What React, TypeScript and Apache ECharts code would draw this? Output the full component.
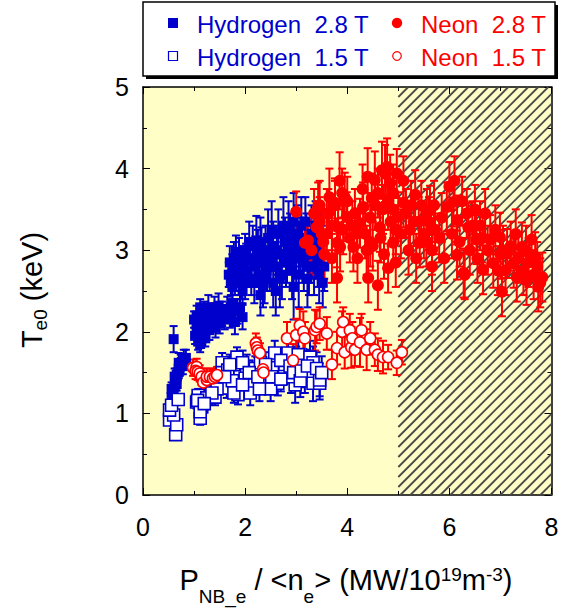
import React, { useEffect, useRef } from 'react';
import * as echarts from 'echarts';

// ---------------- data: [x, Te0, error] ----------------
const xRange = [0, 8];
const yRange = [0, 5];
const xTickStep = 2;
const yTickStep = 1;
const hatchRange = [[5, 8]];

const legendLabels = ['Hydrogen  2.8 T', 'Neon  2.8 T', 'Hydrogen  1.5 T', 'Neon  1.5 T'];

const hydrogen28 = [
  [0.6, 1.91, 0.16],
  [0.56, 1.2, 0.08], [0.58, 1.24, 0.08], [0.6, 1.29, 0.08], [0.62, 1.33, 0.1], [0.63, 1.38, 0.08],
  [0.65, 1.42, 0.1], [0.66, 1.47, 0.08], [0.68, 1.5, 0.1], [0.7, 1.53, 0.1], [0.72, 1.56, 0.1],
  [0.74, 1.6, 0.12], [0.76, 1.63, 0.1], [0.62, 1.45, 0.1], [0.7, 1.62, 0.12], [0.8, 1.66, 0.12],
  [0.78, 1.58, 0.1], [0.66, 1.36, 0.08], [0.56, 1.3, 0.08], [0.84, 1.68, 0.1],
  [1.02, 1.95, 0.1], [1.05, 2.05, 0.12], [1.05, 2.2, 0.12], [1.08, 1.88, 0.1], [1.1, 2.12, 0.12],
  [1.12, 2.3, 0.1], [1.15, 2.0, 0.12], [1.18, 2.18, 0.12], [1.2, 2.25, 0.12], [1.22, 1.92, 0.1],
  [1.25, 2.1, 0.12], [1.28, 2.3, 0.15], [1.3, 2.02, 0.12], [1.33, 2.2, 0.15], [1.36, 2.12, 0.12],
  [1.4, 2.28, 0.15], [1.42, 2.05, 0.12], [1.45, 2.18, 0.12], [1.48, 2.32, 0.15], [1.5, 2.1, 0.12],
  [1.55, 2.22, 0.15], [1.6, 2.15, 0.12], [1.65, 2.28, 0.15], [1.7, 2.2, 0.15], [1.75, 2.35, 0.15],
  [1.8, 2.12, 0.15], [1.85, 2.25, 0.15], [1.9, 2.3, 0.15], [1.95, 2.18, 0.15], [1.12, 1.85, 0.1],
  [1.0, 2.15, 0.1],
  [1.68, 2.7, 0.15], [1.7, 2.85, 0.2], [1.72, 2.6, 0.15], [1.75, 2.75, 0.2], [1.78, 2.9, 0.2],
  [1.8, 2.65, 0.2], [1.85, 2.8, 0.2], [1.88, 2.95, 0.2], [1.9, 2.7, 0.2], [1.95, 2.85, 0.2],
  [2.0, 2.6, 0.2], [2.0, 3.0, 0.2], [2.05, 2.75, 0.2], [2.1, 2.9, 0.25], [2.12, 2.65, 0.2],
  [2.15, 3.05, 0.25], [2.2, 2.8, 0.25], [2.25, 2.95, 0.3], [2.28, 2.7, 0.25], [2.3, 3.1, 0.3],
  [2.35, 2.85, 0.25], [2.4, 3.0, 0.3], [2.42, 2.75, 0.25], [2.45, 3.15, 0.35], [2.5, 2.9, 0.3],
  [2.55, 3.05, 0.3], [2.55, 2.6, 0.3], [2.6, 2.8, 0.3], [2.65, 3.2, 0.3], [2.7, 2.95, 0.3],
  [2.72, 2.7, 0.3], [2.78, 3.1, 0.3], [2.8, 2.85, 0.3], [2.85, 3.25, 0.35], [2.9, 3.0, 0.3],
  [2.92, 2.75, 0.35], [2.98, 3.15, 0.35], [3.0, 2.9, 0.3], [3.05, 2.7, 0.4], [3.08, 3.05, 0.35],
  [3.1, 3.3, 0.35], [3.15, 2.85, 0.35], [3.2, 3.1, 0.35], [3.22, 2.65, 0.35], [3.28, 2.95, 0.35],
  [3.3, 3.2, 0.35], [3.35, 2.8, 0.35], [3.4, 3.05, 0.35], [3.45, 2.7, 0.35], [3.5, 2.95, 0.35],
  [3.52, 2.6, 0.3], [2.35, 2.55, 0.25], [2.95, 2.55, 0.4], [1.95, 2.5, 0.15],
  [1.75, 2.55, 0.15], [1.82, 2.98, 0.2], [1.92, 2.6, 0.2], [2.02, 2.88, 0.2], [2.08, 3.1, 0.25],
  [2.18, 2.6, 0.25], [2.22, 3.12, 0.3], [2.32, 2.98, 0.3], [2.38, 2.65, 0.3], [2.48, 2.8, 0.3],
  [2.52, 3.25, 0.35], [2.62, 3.0, 0.3], [2.68, 2.65, 0.35], [2.75, 3.3, 0.35], [2.82, 2.95, 0.35],
  [2.88, 3.1, 0.35], [2.95, 3.35, 0.35], [3.02, 3.2, 0.35], [3.12, 2.95, 0.35], [3.18, 3.35, 0.3],
  [3.25, 2.8, 0.35], [3.32, 3.0, 0.35], [3.38, 3.3, 0.3], [3.42, 2.9, 0.35], [3.48, 3.15, 0.3],
  [3.55, 2.8, 0.3], [2.3, 2.45, 0.25], [2.6, 2.5, 0.3]
];

const hydrogen15 = [
  [0.52, 0.92, 0.05], [0.64, 0.74, 0.05], [0.66, 0.86, 0.05], [0.6, 0.98, 0.05], [0.52, 1.04, 0.05],
  [0.56, 1.1, 0.06], [0.69, 1.17, 0.06],
  [1.05, 1.14, 0.08], [1.08, 1.22, 0.08], [1.12, 0.94, 0.08], [1.15, 1.08, 0.08], [1.12, 1.02, 0.08],
  [1.25, 1.19, 0.1], [1.41, 1.2, 0.1], [1.07, 1.16, 0.08],
  [1.5, 1.43, 0.12], [1.55, 1.62, 0.12], [1.55, 1.5, 0.12], [1.64, 1.31, 0.12], [1.66, 1.53, 0.12],
  [1.84, 1.69, 0.12], [1.86, 1.23, 0.12], [1.9, 1.45, 0.12], [2.03, 1.57, 0.15], [2.0, 1.43, 0.15],
  [2.15, 1.35, 0.15], [2.2, 1.55, 0.15], [2.35, 1.41, 0.15], [2.3, 1.62, 0.15], [2.45, 1.5, 0.15],
  [2.58, 1.74, 0.15], [2.64, 1.37, 0.15], [2.61, 1.56, 0.15], [2.77, 1.51, 0.15], [2.78, 1.6, 0.15],
  [2.84, 1.74, 0.2], [2.98, 1.35, 0.22], [3.0, 1.62, 0.2], [3.04, 1.72, 0.2], [3.14, 1.59, 0.2],
  [3.17, 1.45, 0.2], [3.27, 1.69, 0.2], [3.3, 1.5, 0.2], [3.33, 1.37, 0.22], [3.33, 1.62, 0.2],
  [3.46, 1.37, 0.2], [3.46, 1.41, 0.2], [2.9, 1.45, 0.2], [2.5, 1.3, 0.15], [1.75, 1.4, 0.12],
  [2.1, 1.25, 0.15],
  [1.45, 1.3, 0.1], [1.6, 1.45, 0.12], [1.7, 1.6, 0.12], [1.78, 1.25, 0.12], [1.95, 1.35, 0.12],
  [1.95, 1.62, 0.15], [2.08, 1.5, 0.15], [2.25, 1.45, 0.15], [2.28, 1.3, 0.15], [2.4, 1.6, 0.15],
  [2.52, 1.45, 0.15], [2.7, 1.42, 0.15], [2.7, 1.65, 0.15], [2.88, 1.58, 0.2], [2.95, 1.5, 0.2],
  [3.08, 1.4, 0.2], [3.1, 1.52, 0.2], [3.22, 1.58, 0.2], [3.4, 1.55, 0.2], [3.5, 1.5, 0.2],
  [1.35, 1.25, 0.1], [1.2, 1.12, 0.08]
];

const neon15 = [
  [0.98, 1.56, 0.1], [1.05, 1.57, 0.1], [1.03, 1.52, 0.1], [1.07, 1.51, 0.1], [1.11, 1.49, 0.1],
  [1.15, 1.45, 0.1], [1.18, 1.38, 0.1], [1.25, 1.41, 0.1], [1.25, 1.45, 0.1], [1.31, 1.45, 0.1],
  [1.37, 1.43, 0.1], [1.41, 1.45, 0.1], [1.45, 1.47, 0.1],
  [2.21, 1.86, 0.12], [2.23, 1.81, 0.12], [2.25, 1.77, 0.12], [2.29, 1.74, 0.12], [2.35, 1.54, 0.12],
  [2.36, 1.5, 0.12],
  [2.82, 1.92, 0.2], [2.94, 1.65, 0.2], [3.0, 1.96, 0.2], [3.07, 2.08, 0.2], [3.14, 2.0, 0.25],
  [3.17, 1.92, 0.2], [3.37, 2.02, 0.25], [3.4, 2.06, 0.2], [3.46, 2.1, 0.2], [3.6, 1.98, 0.2],
  [3.7, 1.6, 0.18], [3.8, 1.8, 0.2], [3.9, 2.0, 0.25], [3.92, 2.12, 0.18], [3.95, 1.75, 0.2],
  [4.05, 2.02, 0.2], [4.08, 1.81, 0.25], [4.1, 1.92, 0.2], [4.15, 1.78, 0.2], [4.25, 1.87, 0.3],
  [4.28, 2.02, 0.2], [4.38, 1.78, 0.25], [4.45, 1.92, 0.2], [4.54, 1.78, 0.2], [4.6, 1.72, 0.2],
  [4.7, 1.69, 0.2], [4.8, 1.69, 0.15], [4.97, 1.62, 0.15], [5.07, 1.75, 0.15]
];

const neon28 = [
  [3.0, 3.47, 0.25], [3.17, 3.09, 0.25], [3.2, 3.09, 0.25], [3.23, 3.12, 0.25], [3.4, 3.28, 0.3],
  [3.43, 3.53, 0.3], [3.46, 3.35, 0.3], [3.46, 3.55, 0.3], [3.53, 3.1, 0.3], [3.6, 3.45, 0.3],
  [3.63, 3.45, 0.3], [3.76, 3.58, 0.3], [3.76, 3.55, 0.3], [3.8, 3.09, 0.3], [3.8, 2.66, 0.3],
  [3.82, 3.28, 0.3], [3.86, 3.04, 0.3], [3.9, 3.7, 0.3], [3.92, 3.25, 0.3], [3.95, 3.65, 0.3],
  [3.99, 3.41, 0.3], [4.12, 3.04, 0.3], [4.19, 3.21, 0.3], [4.25, 3.33, 0.3], [4.31, 3.53, 0.3],
  [4.38, 3.0, 0.3], [4.41, 2.66, 0.3], [4.48, 3.64, 0.3], [4.54, 3.86, 0.35], [4.6, 2.57, 0.3],
  [4.64, 3.28, 0.3], [4.68, 3.98, 0.35], [4.74, 3.94, 0.35], [4.78, 4.02, 0.35], [4.8, 2.78, 0.3],
  [4.84, 3.82, 0.35], [4.9, 3.09, 0.3], [4.97, 3.94, 0.3], [5.0, 3.41, 0.3], [5.1, 3.58, 0.3],
  [5.23, 3.25, 0.3], [5.33, 3.68, 0.3], [5.42, 3.09, 0.3], [5.56, 3.45, 0.3], [5.62, 3.49, 0.3],
  [5.66, 3.0, 0.3], [5.66, 2.8, 0.3], [5.72, 3.25, 0.3], [5.95, 3.53, 0.3], [6.0, 3.78, 0.3],
  [6.08, 3.59, 0.3], [6.15, 3.37, 0.3], [6.15, 2.94, 0.3], [6.28, 2.72, 0.3], [6.3, 2.7, 0.3],
  [6.34, 3.45, 0.3], [6.37, 3.28, 0.3], [6.53, 3.13, 0.3], [6.66, 2.76, 0.3], [6.7, 3.45, 0.3],
  [6.8, 3.13, 0.3], [6.86, 2.84, 0.3], [6.99, 3.16, 0.3], [7.03, 2.49, 0.3], [7.13, 2.96, 0.3],
  [7.26, 2.84, 0.3], [7.32, 2.67, 0.3], [7.42, 3.04, 0.3], [7.51, 2.63, 0.3], [7.61, 3.13, 0.3],
  [7.68, 2.92, 0.3], [7.74, 2.55, 0.3], [7.82, 2.67, 0.3],
  [3.5, 3.2, 0.3], [3.55, 2.95, 0.3], [3.7, 3.3, 0.3], [3.7, 2.9, 0.3], [4.0, 3.6, 0.3],
  [4.05, 3.15, 0.3], [4.15, 3.45, 0.3], [4.2, 2.9, 0.3], [4.3, 3.75, 0.3], [4.35, 3.2, 0.3],
  [4.45, 3.4, 0.3], [4.5, 3.05, 0.3], [4.55, 3.55, 0.3], [4.6, 3.7, 0.3], [4.65, 3.15, 0.3],
  [4.7, 3.5, 0.3], [4.72, 2.95, 0.3], [4.8, 3.6, 0.35], [4.85, 3.35, 0.3], [4.9, 3.7, 0.35],
  [4.95, 2.85, 0.3], [5.05, 3.2, 0.3], [5.1, 3.85, 0.3], [5.15, 3.45, 0.3], [5.2, 3.0, 0.3],
  [5.3, 3.35, 0.3], [5.35, 2.9, 0.3], [5.45, 3.55, 0.3], [5.5, 3.2, 0.3], [5.6, 3.35, 0.3],
  [5.7, 3.55, 0.3], [5.8, 3.15, 0.3], [5.85, 3.4, 0.3], [5.9, 2.9, 0.3], [6.05, 3.2, 0.3],
  [6.1, 3.85, 0.3], [6.2, 3.1, 0.3], [6.25, 3.6, 0.3], [6.4, 3.0, 0.3], [6.45, 3.3, 0.3],
  [6.55, 2.9, 0.3], [6.6, 3.3, 0.3], [6.75, 3.0, 0.3], [6.9, 3.25, 0.3], [6.95, 2.75, 0.3],
  [7.05, 3.0, 0.3], [7.1, 2.75, 0.3], [7.2, 3.05, 0.3], [7.35, 2.9, 0.3], [7.45, 2.75, 0.3],
  [7.55, 2.85, 0.3], [7.65, 2.7, 0.3], [7.72, 2.8, 0.3], [7.78, 2.6, 0.3],
  [3.3, 3.0, 0.3], [3.35, 3.45, 0.3], [3.6, 3.2, 0.3], [3.65, 3.65, 0.35], [3.85, 3.85, 0.35],
  [4.1, 3.3, 0.3], [4.4, 3.9, 0.35], [4.45, 3.1, 0.3], [4.9, 3.5, 0.35], [4.95, 3.25, 0.3],
  [5.25, 3.55, 0.3], [5.4, 3.35, 0.3], [5.55, 3.1, 0.3], [6.5, 3.5, 0.3], [6.65, 3.15, 0.3],
  [7.0, 2.95, 0.3], [7.3, 3.2, 0.3], [7.5, 3.0, 0.3]
];

// ---------------- styling ----------------
const BLUE = '#0000cc';
const RED = '#ff0000';
const FONT = '"Liberation Sans", Arial, Helvetica, sans-serif';

function errorBars(name: string, data: number[][], color: string) {
  return {
    type: 'custom',
    name: name + ' err',
    data,
    encode: { x: 0, y: 1 },
    silent: true,
    renderItem: (params: any, api: any) => {
      const x = api.value(0);
      const y = api.value(1);
      const e = api.value(2);
      const hi = api.coord([x, y + e]);
      const lo = api.coord([x, y - e]);
      const w = 4;
      const style = { stroke: color, lineWidth: 2, fill: null };
      return {
        type: 'group',
        children: [
          { type: 'line', shape: { x1: hi[0], y1: hi[1], x2: lo[0], y2: lo[1] }, style },
          { type: 'line', shape: { x1: hi[0] - w, y1: hi[1], x2: hi[0] + w, y2: hi[1] }, style },
          { type: 'line', shape: { x1: lo[0] - w, y1: lo[1], x2: lo[0] + w, y2: lo[1] }, style }
        ]
      };
    }
  };
}

function hatchSeries() {
  return {
    type: 'custom',
    name: 'hatch',
    data: hatchRange,
    encode: { x: [0, 1] },
    silent: true,
    renderItem: (params: any, api: any) => {
      const p0 = api.coord([api.value(0), yRange[0]]);
      const p1 = api.coord([api.value(1), yRange[1]]);
      const x0 = p0[0], x1 = p1[0], yB = p0[1], yT = p1[1];
      const H = yB - yT;
      const step = 10;
      const children: any[] = [];
      for (let c = x0 - H; c < x1; c += step) {
        let sx = c, sy = yB, ex = c + H, ey = yT;
        if (sx < x0) { sy = yB - (x0 - sx); sx = x0; }
        if (ex > x1) { ey = yT + (ex - x1); ex = x1; }
        if (ex <= sx) continue;
        children.push({
          type: 'line',
          shape: { x1: sx, y1: sy, x2: ex, y2: ey },
          style: { stroke: '#4a4a4a', lineWidth: 1.8 }
        });
      }
      return { type: 'group', children };
    }
  };
}

function markerSeries(name: string, data: number[][], symbol: string, size: number, color: string, open: boolean) {
  return {
    type: 'scatter',
    name,
    data: data.map((d) => [d[0], d[1]]),
    symbol,
    symbolSize: size,
    itemStyle: open
      ? { color: '#ffffff', borderColor: color, borderWidth: 1.6, opacity: 1 }
      : { color, opacity: 1 },
    emphasis: { disabled: true }
  };
}

const axisCommon = {
  axisLine: { show: true, onZero: false, lineStyle: { color: '#000', width: 1.5 } },
  axisTick: { show: true, inside: true, length: 7, lineStyle: { color: '#000', width: 1 } },
  minorTick: { show: true, splitNumber: 2, length: 4, lineStyle: { color: '#000', width: 1 } },
  splitLine: { show: false }
};

export default function App() {
  const ref = useRef<HTMLDivElement>(null);

  useEffect(() => {
    if (!ref.current) return;
    const chart = echarts.init(ref.current, null, { renderer: 'svg' });

    const legendRows = [23, 56];
    const option: any = {
      animation: false,
      backgroundColor: '#ffffff',
      grid: {
        left: 143, right: 11.5, top: 87, bottom: 115,
        show: true, backgroundColor: '#fffec6', borderWidth: 0
      },
      xAxis: [
        {
          ...axisCommon, type: 'value', position: 'bottom', min: xRange[0], max: xRange[1], interval: xTickStep,
          axisLabel: { color: '#000', fontSize: 25, fontFamily: FONT, margin: 19 }
        },
        {
          ...axisCommon, type: 'value', position: 'top', min: xRange[0], max: xRange[1], interval: xTickStep,
          axisLabel: { show: false }
        }
      ],
      yAxis: [
        {
          ...axisCommon, type: 'value', position: 'left', min: yRange[0], max: yRange[1], interval: yTickStep,
          axisLabel: { color: '#000', fontSize: 25, fontFamily: FONT, margin: 14 }
        },
        {
          ...axisCommon, type: 'value', position: 'right', min: yRange[0], max: yRange[1], interval: yTickStep,
          axisLabel: { show: false }
        }
      ],
      series: [
        hatchSeries(),
        errorBars(legendLabels[0], hydrogen28, BLUE),
        markerSeries(legendLabels[0], hydrogen28, 'rect', 10, BLUE, false),
        errorBars(legendLabels[2], hydrogen15, BLUE),
        markerSeries(legendLabels[2], hydrogen15, 'rect', 12, BLUE, true),
        errorBars(legendLabels[3], neon15, RED),
        markerSeries(legendLabels[3], neon15, 'circle', 11, RED, true),
        errorBars(legendLabels[1], neon28, RED),
        markerSeries(legendLabels[1], neon28, 'circle', 12, RED, false)
      ],
      graphic: [
        // legend frame with shadow
        { type: 'rect', shape: { x: 146, y: 5, width: 412, height: 74 }, style: { fill: '#000' }, z: 100 },
        { type: 'rect', shape: { x: 143, y: 2, width: 412, height: 74 }, style: { fill: '#fff', stroke: '#000', lineWidth: 1.5 }, z: 101 },
        { type: 'rect', shape: { x: 168, y: legendRows[0] - 5, width: 10, height: 10 }, style: { fill: BLUE }, z: 102 },
        { type: 'rect', shape: { x: 168.5, y: legendRows[1] - 4.5, width: 9, height: 9 }, style: { fill: '#fff', stroke: BLUE, lineWidth: 1.2 }, z: 102 },
        { type: 'circle', shape: { cx: 397, cy: legendRows[0], r: 5.2 }, style: { fill: RED }, z: 102 },
        { type: 'circle', shape: { cx: 397, cy: legendRows[1], r: 4.3 }, style: { fill: '#fff', stroke: RED, lineWidth: 1.2 }, z: 102 },
        { type: 'text', x: 197, y: legendRows[0] + 1, z: 102, style: { text: legendLabels[0], fill: BLUE, fontSize: 24, fontFamily: FONT, verticalAlign: 'middle' } },
        { type: 'text', x: 421, y: legendRows[0] + 1, z: 102, style: { text: legendLabels[1], fill: RED, fontSize: 24, fontFamily: FONT, verticalAlign: 'middle' } },
        { type: 'text', x: 197, y: legendRows[1] + 1, z: 102, style: { text: legendLabels[2], fill: BLUE, fontSize: 24, fontFamily: FONT, verticalAlign: 'middle' } },
        { type: 'text', x: 421, y: legendRows[1] + 1, z: 102, style: { text: legendLabels[3], fill: RED, fontSize: 24, fontFamily: FONT, verticalAlign: 'middle' } },
        // x axis title
        {
          type: 'text', x: 346, y: 580, z: 102,
          style: {
            text: '{m|P}{s|NB_e}{m| / <n}{s|e}{m|> (MW/10}{u|19}{m|m}{u|-3}{m|)}',
            fill: '#000', fontFamily: FONT, fontSize: 29, align: 'center', verticalAlign: 'middle',
            rich: {
              m: { fontSize: 29, lineHeight: 30, fontFamily: FONT, fill: '#000' },
              s: { fontSize: 19, lineHeight: 10, verticalAlign: 'top', padding: [22, 0, 0, 0], fontFamily: FONT, fill: '#000' },
              u: { fontSize: 19, lineHeight: 10, verticalAlign: 'top', padding: [0, 0, 0, 0], fontFamily: FONT, fill: '#000' }
            }
          }
        },
        // y axis title
        {
          type: 'text', x: 32, y: 290, rotation: Math.PI / 2, z: 102,
          style: {
            text: '{m|T}{s|e0}{m| (keV)}',
            fill: '#000', fontFamily: FONT, fontSize: 29, align: 'center', verticalAlign: 'middle',
            rich: {
              m: { fontSize: 29, lineHeight: 30, fontFamily: FONT, fill: '#000' },
              s: { fontSize: 19, lineHeight: 10, verticalAlign: 'top', padding: [14, 0, 0, 0], fontFamily: FONT, fill: '#000' }
            }
          }
        }
      ]
    };

    chart.setOption(option);
    return () => chart.dispose();
  }, []);

  return <div ref={ref} style={{ position: 'absolute', left: 0, top: 0, width: 563, height: 610 }} />;
}
